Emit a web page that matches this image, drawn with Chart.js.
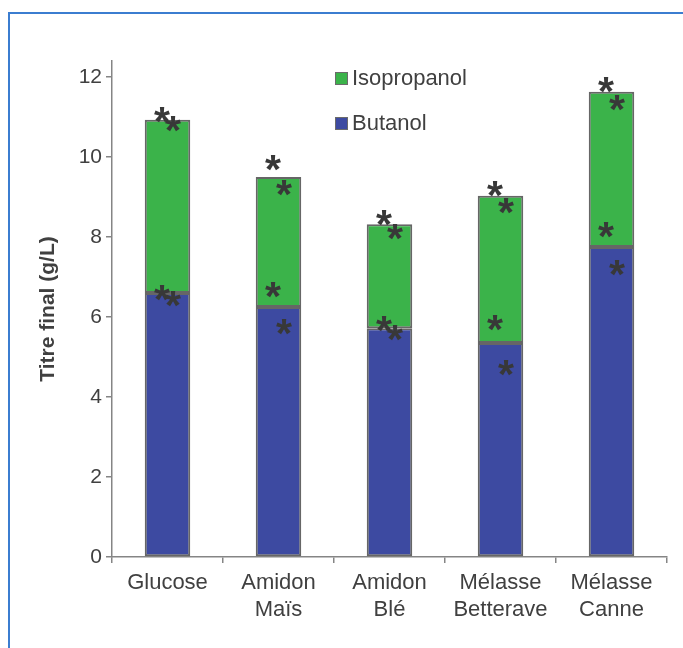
<!DOCTYPE html>
<html>
<head>
<meta charset="utf-8">
<script src="https://cdn.jsdelivr.net/npm/chart.js@4.4.0/dist/chart.umd.min.js"></script>
<style>
  html, body { margin: 0; padding: 0; background: #fff; }
  #wrap { width: 683px; height: 648px; position: relative; }
</style>
</head>
<body>
<div id="wrap"><canvas id="titreChart" width="683" height="648"></canvas></div>
<script>
const categories = [['Glucose'], ['Amidon', 'Maïs'], ['Amidon', 'Blé'], ['Mélasse', 'Betterave'], ['Mélasse', 'Canne']];
const butanol = [6.6, 6.25, 5.72, 5.35, 7.75];
const isopropanol = [4.33, 3.25, 2.6, 3.68, 3.88];
const yTicks = [0, 2, 4, 6, 8, 10, 12];

// significance stars (g/L), left and right of each bar
const starsTopLeft = [11.05, 9.85, 8.48, 9.2, 11.8];
const starsTopRight = [10.83, 9.22, 8.13, 8.78, 11.35];
const starsMidLeft = [6.6, 6.68, 5.83, 5.85, 8.18];
const starsMidRight = [6.45, 5.75, 5.6, 4.72, 7.22];

const textColor = '#404040';
const axisColor = '#858585';

const frame = {
  id: 'frame',
  beforeDraw(chart) {
    const { ctx } = chart;
    ctx.save();
    ctx.fillStyle = '#fff';
    ctx.fillRect(0, 0, chart.width, chart.height);
    ctx.strokeStyle = '#3b7dd0';
    ctx.lineWidth = 2;
    ctx.beginPath();
    ctx.moveTo(9, chart.height);
    ctx.lineTo(9, 13);
    ctx.lineTo(chart.width, 13);
    ctx.stroke();
    ctx.restore();
  }
};

const stars = {
  id: 'stars',
  afterDatasetsDraw(chart) {
    const { ctx, scales: { x, y } } = chart;
    ctx.save();
    ctx.font = 'bold 41px "Liberation Sans", Arial, sans-serif';
    ctx.fillStyle = '#383838';
    ctx.textBaseline = 'alphabetic';
    ctx.textAlign = 'left';
    const m = ctx.measureText('*');
    const cx = (m.actualBoundingBoxRight - m.actualBoundingBoxLeft) / 2;
    const cy = (m.actualBoundingBoxAscent - m.actualBoundingBoxDescent) / 2;
    const sets = [[starsTopLeft, -5.5], [starsTopRight, 5.5], [starsMidLeft, -5.5], [starsMidRight, 5.5]];
    sets.forEach(([vals, dx]) => {
      vals.forEach((v, i) => {
        const px = x.getPixelForValue(i) + dx;
        const py = y.getPixelForValue(v);
        ctx.fillText('*', px - cx, py + cy);
      });
    });
    ctx.restore();
  }
};

const legendBox = {
  id: 'legendBox',
  afterDraw(chart) {
    const { ctx } = chart;
    ctx.save();
    ctx.font = '22px "Liberation Sans", Arial, sans-serif';
    ctx.textBaseline = 'middle';
    ctx.textAlign = 'left';
    const items = chart.data.datasets.slice().reverse();
    items.forEach((ds, i) => {
      const yy = 78 + i * 45;
      ctx.fillStyle = ds.backgroundColor;
      ctx.fillRect(335, yy - 6, 13, 13);
      ctx.strokeStyle = '#6b6b6b';
      ctx.lineWidth = 1;
      ctx.strokeRect(335.5, yy - 5.5, 12, 12);
      ctx.fillStyle = textColor;
      ctx.fillText(ds.label, 352, yy + 1);
    });
    ctx.restore();
  }
};

new Chart(document.getElementById('titreChart'), {
  type: 'bar',
  data: {
    labels: categories,
    datasets: [
      {
        label: 'Butanol',
        data: butanol,
        backgroundColor: '#3d4aa1',
        borderColor: '#666',
        borderWidth: 2,
        borderSkipped: false,
        barPercentage: 0.41,
        categoryPercentage: 1
      },
      {
        label: 'Isopropanol',
        data: isopropanol,
        backgroundColor: '#3bb34a',
        borderColor: '#666',
        borderWidth: 2,
        borderSkipped: false,
        barPercentage: 0.41,
        categoryPercentage: 1
      }
    ]
  },
  options: {
    responsive: false,
    animation: false,
    layout: { padding: { left: 0, top: 61, right: 16, bottom: 0 } },
    plugins: {
      legend: { display: false },
      tooltip: { enabled: false }
    },
    scales: {
      x: {
        stacked: true,
        border: { color: axisColor, width: 1.5 },
        grid: { drawOnChartArea: false, drawTicks: true, tickLength: 6, color: axisColor, lineWidth: 1.5 },
        ticks: {
          color: textColor,
          font: { family: '"Liberation Sans", Arial, sans-serif', size: 22, lineHeight: 1.25 },
          padding: 6,
          maxRotation: 0
        },
        afterFit(scale) { scale.height = 91; }
      },
      y: {
        stacked: true,
        min: 0,
        max: 12.4,
        border: { color: axisColor, width: 1.5 },
        grid: { drawOnChartArea: false, drawTicks: true, tickLength: 6, color: axisColor, lineWidth: 1.5 },
        afterBuildTicks(scale) { scale.ticks = yTicks.map(v => ({ value: v })); },
        ticks: {
          color: textColor,
          font: { family: '"Liberation Sans", Arial, sans-serif', size: 21 },
          padding: 4
        },
        title: {
          display: true,
          text: 'Titre final (g/L)',
          color: textColor,
          font: { family: '"Liberation Sans", Arial, sans-serif', size: 21, weight: 'bold' },
          padding: { top: 36, bottom: 0 }
        },
        afterFit(scale) { scale.width = 112; }
      }
    }
  },
  plugins: [frame, stars, legendBox]
});
</script>
</body>
</html>
